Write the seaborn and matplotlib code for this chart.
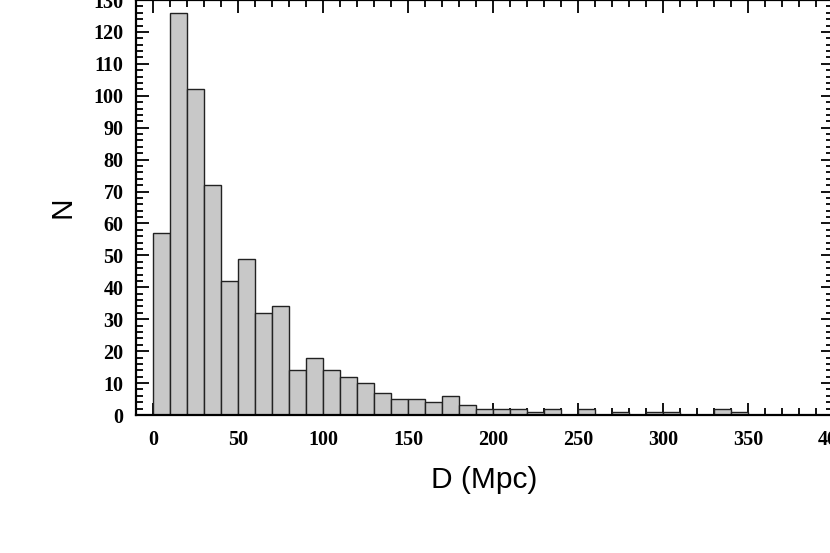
import numpy as np
import pandas as pd
import matplotlib
matplotlib.use('Agg')
import matplotlib.pyplot as plt
from matplotlib.ticker import MultipleLocator
import seaborn as sns

# histogram of distances, bins of 10 Mpc
bin_edges = np.arange(0, 360, 10)
counts = [57, 126, 102, 72, 42, 49, 32, 34, 14, 18,
          14, 12, 10, 7, 5, 5, 4, 6, 3, 2,
          2, 2, 1, 2, 0, 2, 0, 1, 0, 1,
          1, 0, 0, 2, 1]
bin_centers = bin_edges[:-1] + 5

df = pd.DataFrame({'D': bin_centers, 'N': counts})

sns.set_style('ticks')

fig = plt.figure(figsize=(8.3, 5.53), dpi=100)
ax = fig.add_axes([0.1639, 0.2495, 1.0036 - 0.1639, 1.0 - 0.2495])

sns.histplot(data=df, x='D', weights='N', bins=list(bin_edges), ax=ax,
             color='#c8c8c8', alpha=1.0, edgecolor='#222222', linewidth=1.0)

ax.set_xlim(-10, 400)
ax.set_ylim(0, 130)
ax.xaxis.set_major_locator(MultipleLocator(50))
ax.xaxis.set_minor_locator(MultipleLocator(10))
ax.yaxis.set_major_locator(MultipleLocator(10))
ax.yaxis.set_minor_locator(MultipleLocator(2))
ax.tick_params(which='both', direction='in', top=True, right=True, width=1.3,
               color='black', labelcolor='black')
ax.tick_params(which='major', length=9)
ax.tick_params(which='minor', length=5)
ax.tick_params(axis='x', which='major', pad=11)
ax.tick_params(axis='y', which='major', pad=9)
for sp in ax.spines.values():
    sp.set_linewidth(1.6)
    sp.set_color('black')

for lab in ax.get_xticklabels() + ax.get_yticklabels():
    lab.set_fontfamily('Liberation Serif')
    lab.set_fontweight('bold')
    lab.set_fontsize(14.5)

ax.set_xlabel('D (Mpc)', fontsize=21.5, fontfamily='Liberation Sans', labelpad=11, color='black')
ax.set_ylabel('N', fontsize=21.5, fontfamily='Liberation Sans', labelpad=12, color='black')

fig.savefig('out.png', dpi=100)
